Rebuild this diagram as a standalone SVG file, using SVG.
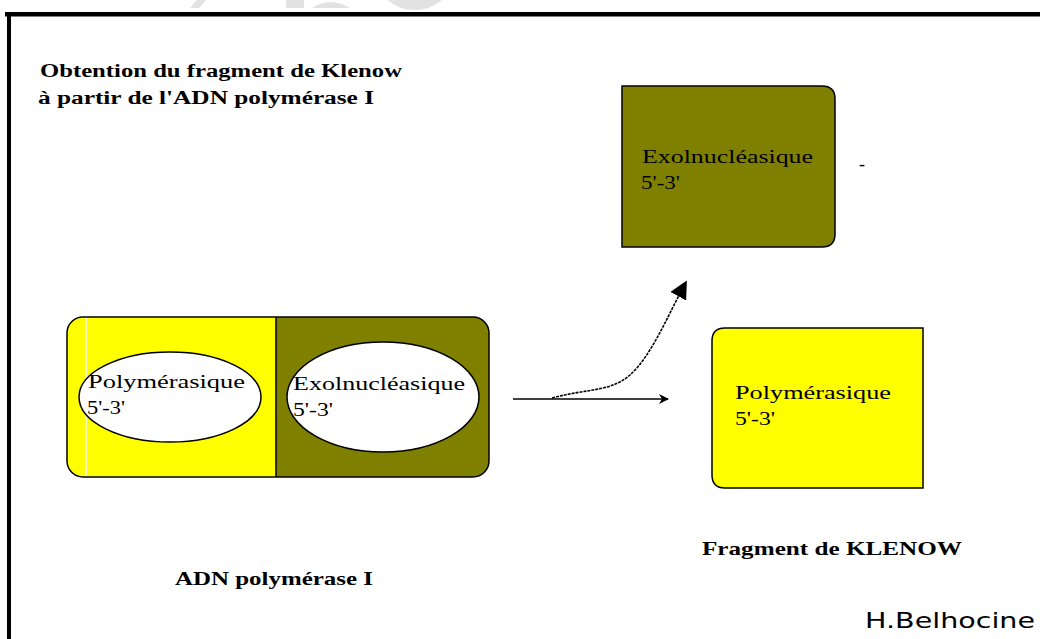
<svg xmlns="http://www.w3.org/2000/svg" width="1040" height="639" viewBox="0 0 1040 639">
<defs>
<style>
.lbl{font-family:"Liberation Serif","DejaVu Serif",serif;font-size:18px;fill:#000}
.ttl{font-family:"Liberation Serif","DejaVu Serif",serif;font-size:18px;font-weight:bold;fill:#000}
.cap{font-family:"Liberation Serif",serif;font-size:19px;font-weight:bold;fill:#000}
.sig{font-family:"DejaVu Sans","Liberation Sans",sans-serif;font-size:22px;fill:#000}
.conn{fill:none;stroke:#000;stroke-width:1.6}
.edge{stroke:#000;stroke-width:1.5}
</style>
<marker id="ah" viewBox="0 0 10 10" refX="9" refY="5" markerWidth="10" markerHeight="10" markerUnits="userSpaceOnUse" orient="auto">
<path d="M0,0 L10,5 L0,10 L3,5 Z" fill="#000"/>
</marker>
<marker id="ah2" viewBox="0 0 10 10" refX="9" refY="5" markerWidth="18" markerHeight="18" markerUnits="userSpaceOnUse" orient="auto">
<path d="M0,0 L10,5 L0,10 Z" fill="#000"/>
</marker>
</defs>
<rect width="1040" height="639" fill="#fff"/>
<g id="watermark" fill="#e2e2e2">
<path d="M190,8 L197,0 L206,0 L199,8 Z"/>
<rect x="286" y="0" width="18" height="8"/>
<path d="M312,8 Q330,-4 350,8 Z"/>
<path d="M388,0 L442,0 Q430,10 415,10 Q398,10 388,0 Z"/>
</g>
<g id="frame" fill="#000">
<rect x="5" y="12" width="1035" height="4.5"/>
<rect x="7" y="12" width="4" height="627"/>
</g>
<g id="title">
<text class="ttl" x="40" y="77" textLength="362" lengthAdjust="spacingAndGlyphs">Obtention du fragment de Klenow</text>
<text class="ttl" x="38" y="104" textLength="336" lengthAdjust="spacingAndGlyphs">à partir de l'ADN polymérase I</text>
</g>
<g id="adn-pol-I">
<clipPath id="cl"><rect x="67" y="317" width="422" height="160" rx="16"/></clipPath>
<g clip-path="url(#cl)">
<rect x="67" y="317" width="209" height="160" fill="#ffff00"/>
<rect x="276" y="317" width="213" height="160" fill="#808000"/>
<line x1="86" y1="317" x2="86" y2="477" stroke="#fff" stroke-width="1.5"/>
</g>
<rect x="67" y="317" width="422" height="160" rx="16" fill="none" class="edge"/>
<line x1="276" y1="317" x2="276" y2="477" class="edge"/>
</g>
<g id="ellipse-pol">
<ellipse cx="170" cy="397" rx="91" ry="45" fill="#fff" class="edge"/>
<text class="lbl" x="88" y="388" textLength="157" lengthAdjust="spacingAndGlyphs">Polymérasique</text>
<text class="lbl" x="87" y="414" textLength="38" lengthAdjust="spacingAndGlyphs">5'-3'</text>
</g>
<g id="ellipse-exo">
<ellipse cx="383" cy="397" rx="96" ry="55" fill="#fff" class="edge"/>
<text class="lbl" x="293" y="390" textLength="172" lengthAdjust="spacingAndGlyphs">Exolnucléasique</text>
<text class="lbl" x="293" y="416" textLength="40" lengthAdjust="spacingAndGlyphs">5'-3'</text>
</g>
<g id="exo-fragment">
<path d="M622,86 H822 Q835,86 835,99 V234 Q835,247 822,247 H622 Z" fill="#808000" class="edge"/>
<text class="lbl" x="642" y="163" textLength="171" lengthAdjust="spacingAndGlyphs">Exolnucléasique</text>
<text class="lbl" x="641" y="189" textLength="39" lengthAdjust="spacingAndGlyphs">5'-3'</text>
</g>
<g id="dash"><text class="lbl" x="859" y="170">-</text></g>
<g id="klenow-fragment">
<path d="M725,328 H923 V488 H725 Q712,488 712,475 V341 Q712,328 725,328 Z" fill="#ffff00" class="edge"/>
<text class="lbl" x="735" y="399" textLength="156" lengthAdjust="spacingAndGlyphs">Polymérasique</text>
<text class="lbl" x="735" y="425" textLength="40" lengthAdjust="spacingAndGlyphs">5'-3'</text>
</g>
<g id="connectors">
<line x1="513" y1="399" x2="668" y2="399" class="conn" marker-end="url(#ah)"/>
<path d="M552,398 C590,388 610,392 630,375 C652,355 668,315 686,282" class="conn" stroke-dasharray="3,1" marker-end="url(#ah2)"/>
</g>
<g id="captions">
<text class="cap" x="175" y="585" textLength="198" lengthAdjust="spacingAndGlyphs">ADN polymérase I</text>
<text class="cap" x="702" y="555" textLength="260" lengthAdjust="spacingAndGlyphs">Fragment de  KLENOW</text>
<text class="sig" x="865" y="628" textLength="170" lengthAdjust="spacingAndGlyphs">H.Belhocine</text>
</g>
</svg>
